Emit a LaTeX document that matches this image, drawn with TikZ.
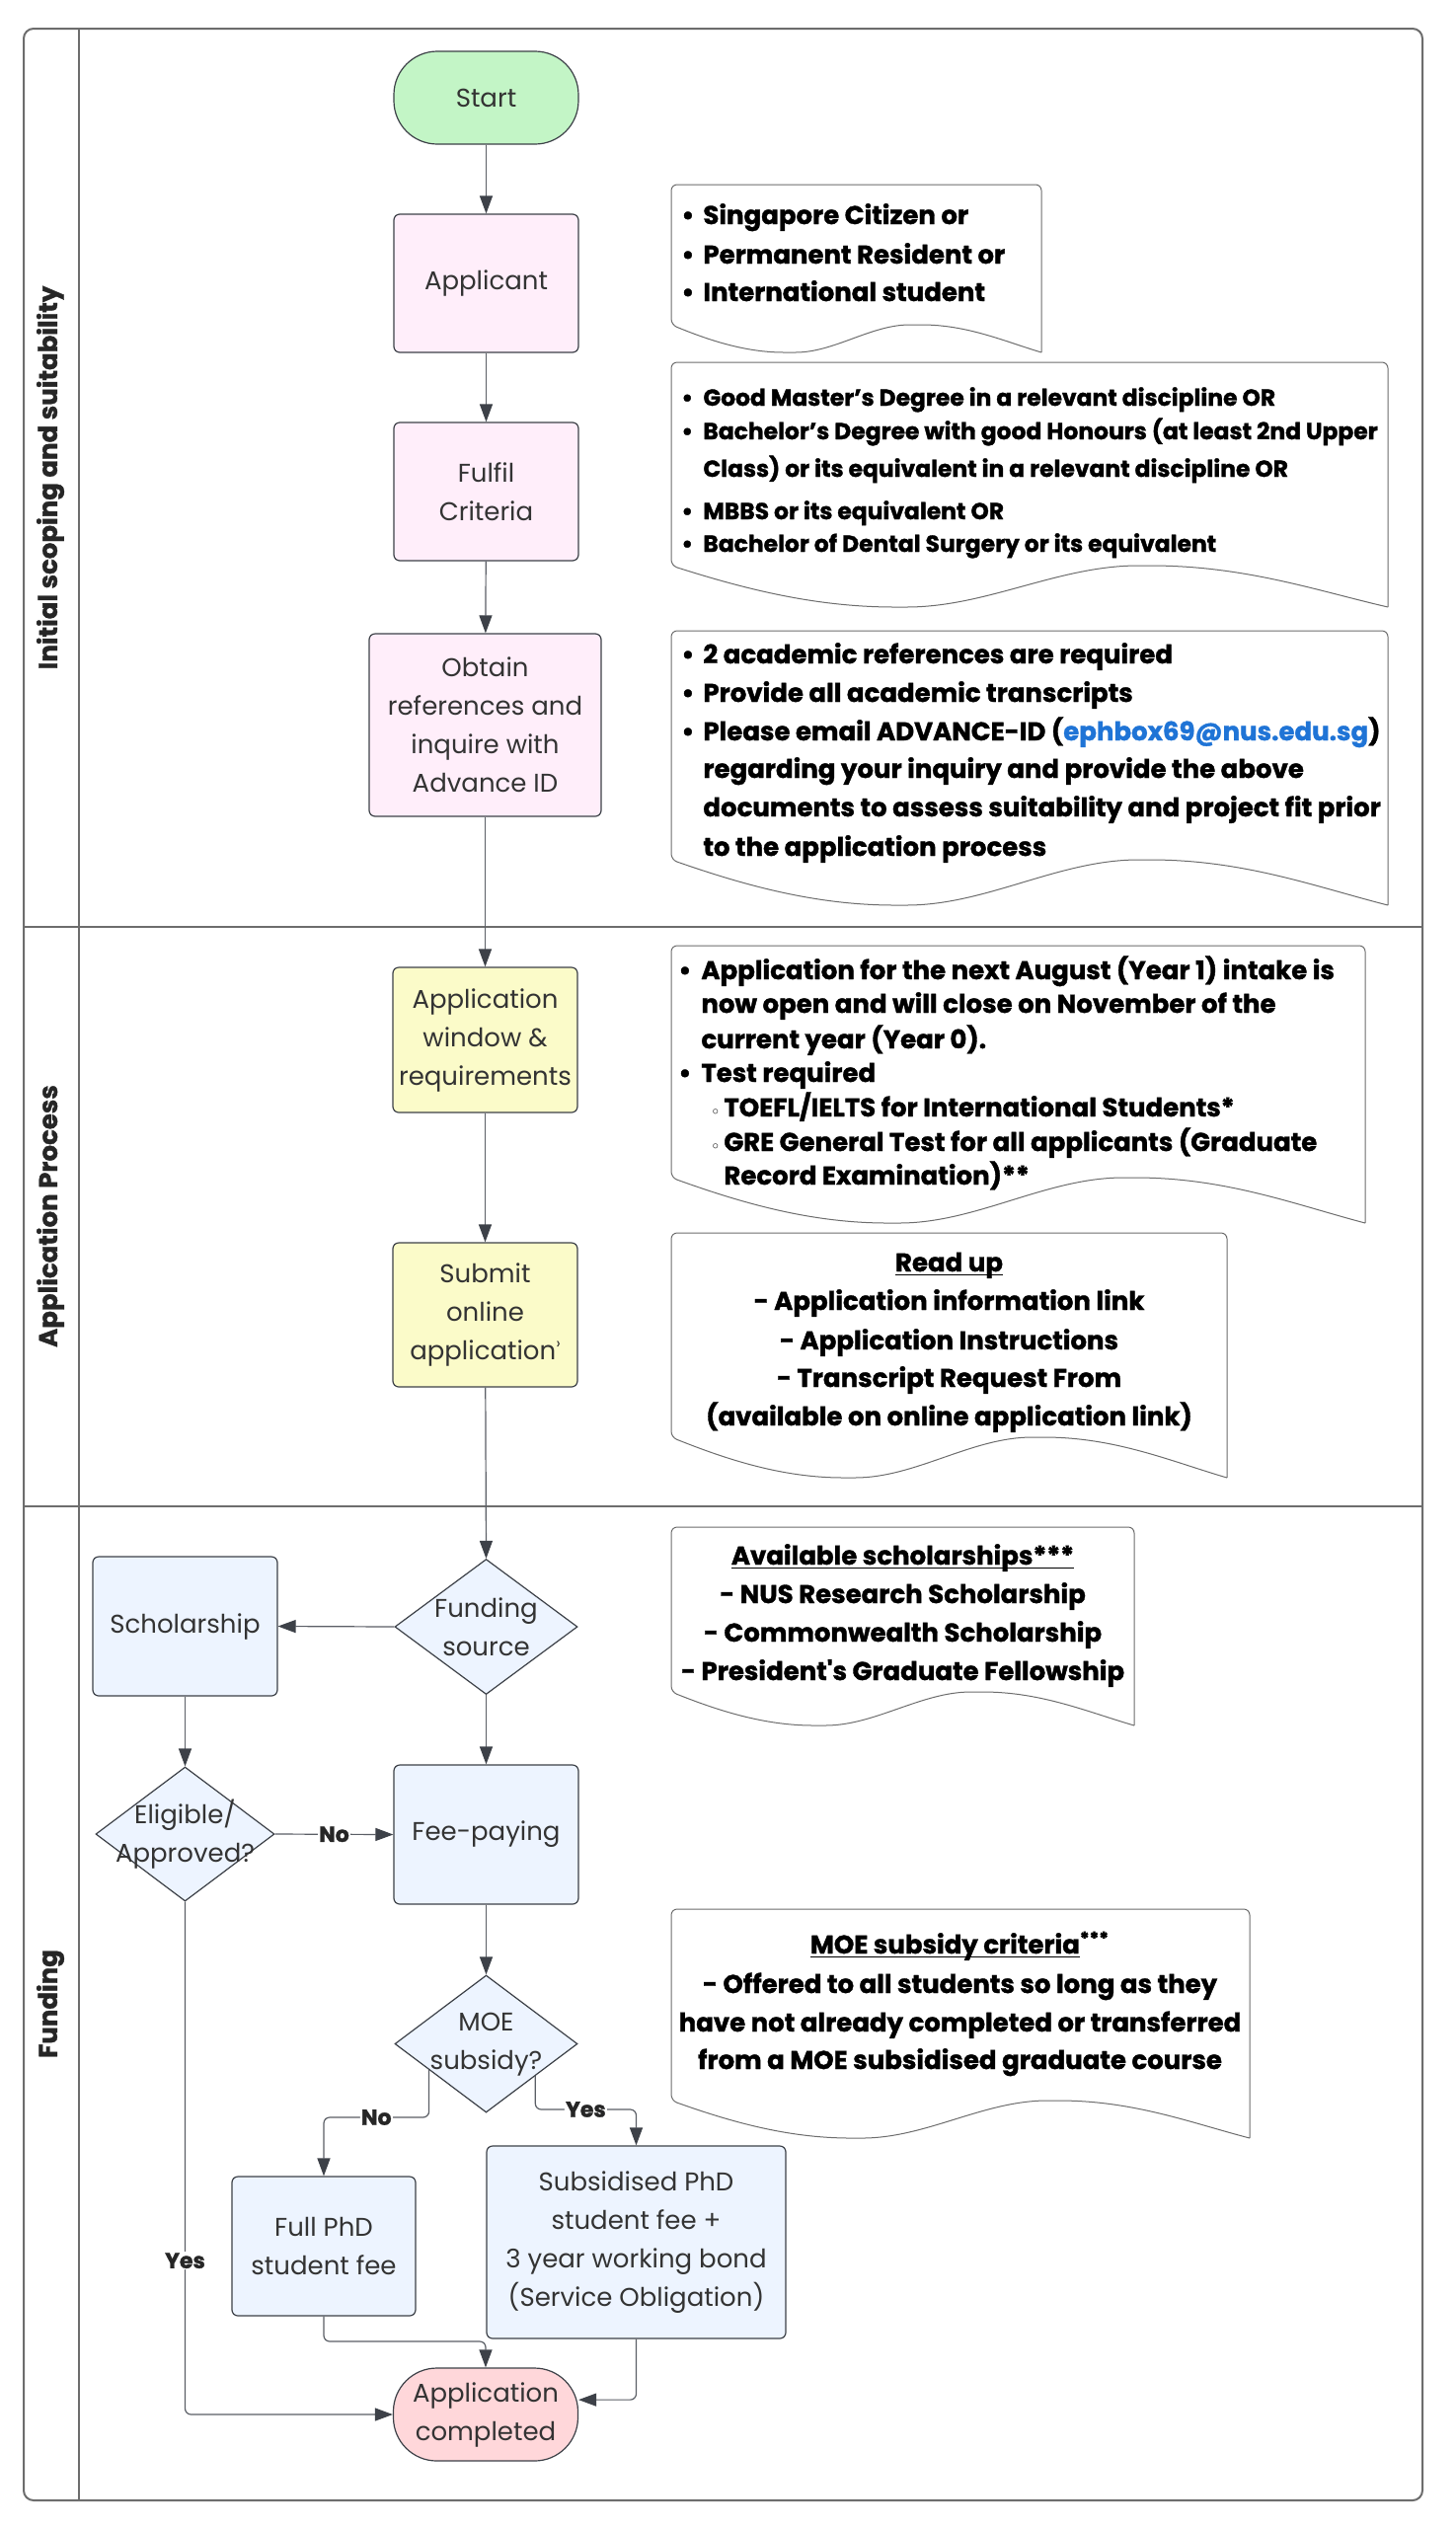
\documentclass[tikz,border=0pt]{standalone}
\usepackage{fontspec}
\newfontfamily\pop{Poppins}[BoldFeatures={FakeBold=1.4}]
\newfontfamily\dejavu{DejaVu Sans}
\usetikzlibrary{shapes.geometric,arrows.meta,calc}
\definecolor{startg}{HTML}{C3F5C6}
\definecolor{pinkb}{HTML}{FFEEFA}
\definecolor{yelb}{HTML}{FBFBC9}
\definecolor{blueb}{HTML}{EDF4FF}
\definecolor{redb}{HTML}{FFD7DA}
\definecolor{edgec}{HTML}{3D4148}
\definecolor{txtc}{HTML}{333333}
\definecolor{connc}{HTML}{5B5F66}
\definecolor{frmc}{HTML}{6D6D6D}
\definecolor{linkb}{HTML}{1F74D6}
\newcommand{\bxfont}{\pop\fontsize{13}{19.5}\selectfont}
\newcommand{\ntfont}{\pop\bfseries\fontsize{13}{19.5}\selectfont}
\newcommand{\myul}[1]{\setbox0\hbox{#1}\rlap{\rule[-2.2pt]{\wd0}{0.9pt}}\box0}
\newcommand{\bula}{\makebox[10pt][l]{\hspace{-1pt}•}}
\newcommand{\bulb}{\makebox[10.5pt][l]{\hspace{-1pt}•}}
\newcommand{\sbul}{\makebox[6.5pt][l]{\dejavu\fontsize{7}{7}\selectfont ◦}}
\newcommand{\docshape}[5]{\draw[notebd] (#3,#4) -- (#3,#2) -- (#1,#2) -- (#1,{#4-#5}) .. controls ({#1+0.1*(#3-#1)},{#4-0.45*#5}) and ({#1+0.2*(#3-#1)},#4) .. ({#1+0.32*(#3-#1)},#4) .. controls ({#1+0.44*(#3-#1)},#4) and ({#1+0.54*(#3-#1)},{#4-#5}) .. ({#1+0.66*(#3-#1)},{#4-#5}) .. controls ({#1+0.8*(#3-#1)},{#4-#5}) and ({#1+0.9*(#3-#1)},{#4-0.4*#5}) .. (#3,#4);}
\begin{document}
\begin{tikzpicture}[x=0.5pt,y=-0.5pt,
  frame/.style={draw=frmc, line width=1pt},
  box/.style={draw=edgec, line width=0.6pt, rounded corners=3pt, align=center, inner sep=0pt, text=txtc, font=\bxfont},
  term/.style={box, rounded corners=22pt, minimum width=93.5pt, minimum height=47pt},
  dia/.style={diamond, draw=edgec, line width=0.6pt, fill=blueb, inner sep=0pt},
  dtext/.style={align=center, inner sep=0pt, text=txtc, font=\bxfont},
  notebd/.style={draw=frmc, line width=0.5pt, rounded corners=3pt},
  nl/.style={anchor=base west, inner sep=0pt, font=\ntfont},
  nc/.style={anchor=base, inner sep=0pt, font=\ntfont},
  lane/.style={rotate=90, font=\pop\bfseries\fontsize{13}{15}\selectfont, text=black!85},
  lbl/.style={font=\pop\bfseries\fontsize{11}{12}\selectfont, text=black!85, fill=white, inner sep=0.6pt},
  arr/.style={draw=connc, line width=0.6pt, rounded corners=3pt, -{Triangle[length=9pt,width=6.5pt,color=edgec]}}
]
\useasboundingbox (0,0) rectangle (1475,2560);
\fill[white] (0,0) rectangle (1475,2560);
% frame and lanes
\draw[frame, rounded corners=5pt] (24,29) rectangle (1441,2533);
\draw[frame] (80,29) -- (80,2533);
\draw[frame] (24,939) -- (1441,939);
\draw[frame] (24,1526) -- (1441,1526);
\node[lane] (lane1) at (51,484) {Initial scoping and suitability};
\node[lane] (lane2) at (51,1232) {Application Process};
\node[lane] (lane3) at (51,2030) {Funding};

% flow nodes
\node[term, fill=startg] (start) at (492.5,99) {Start};
\node[box, fill=pinkb, minimum width=93.5pt, minimum height=70pt] (appl) at (492.5,287) {Applicant};
\node[box, fill=pinkb, minimum width=93.5pt, minimum height=70pt] (fulfil) at (492.5,498) {Fulfil\\Criteria};
\node[box, fill=pinkb, minimum width=117.5pt, minimum height=92.5pt] (obtain) at (491.5,734.5) {Obtain\\references and\\inquire with\\Advance ID};
\node[box, fill=yelb, minimum width=93.5pt, minimum height=73.5pt] (window) at (491.5,1053.5) {Application\\window \&\\requirements};
\node[box, fill=yelb, minimum width=93.5pt, minimum height=73pt] (submit) at (491.5,1332) {Submit\\online\\application\raisebox{0.42em}{\fontsize{8}{8}\selectfont ›}};
\node[dia, minimum width=92.5pt, minimum height=68.5pt] (fund) at (492.5,1648) {};
\node[dtext] (fundt) at (492.5,1648) {Funding\\source};
\node[box, fill=blueb, minimum width=93.5pt, minimum height=70.5pt] (schol) at (187.5,1647.5) {Scholarship};
\node[dia, minimum width=90.5pt, minimum height=68pt] (elig) at (187.5,1858) {};
\node[dtext] (eligt) at (187.5,1858) {Eligible/\\Approved?};
\node[box, fill=blueb, minimum width=93.5pt, minimum height=70.5pt] (fee) at (492.5,1858.5) {Fee-paying};
\node[dia, minimum width=92.5pt, minimum height=69.5pt] (moe) at (492.5,2070.5) {};
\node[dtext] (moet) at (492.5,2071) {MOE\\subsidy?};
\node[box, fill=blueb, minimum width=93pt, minimum height=70.5pt] (full) at (328,2275.5) {Full PhD\\student fee};
\node[box, fill=blueb, minimum width=151.5pt, minimum height=97.5pt] (subs) at (644.5,2271.5) {Subsidised PhD\\student fee +\\3 year working bond\\(Service Obligation)};
\node[term, fill=redb] (done) at (492,2446) {Application\\completed};

% connectors
\draw[arr] (start) -- (appl);
\draw[arr] (appl) -- (fulfil);
\draw[arr] (fulfil) -- (obtain);
\draw[arr] (obtain) -- (window);
\draw[arr] (window) -- (submit);
\draw[arr] (submit) -- (fund.north);
\draw[arr] (fund.west) -- (schol.east);
\draw[arr] (fund.south) -- (fee.north);
\draw[arr] (schol.south) -- (elig.north);
\draw[arr] (elig.east) -- node[lbl]{No} (fee.west);
\draw[arr] (fee.south) -- (moe.north);
\coordinate (moeno) at ($(moe.west)!0.378!(moe.south)$);
\coordinate (moeyes) at ($(moe.south)!0.535!(moe.east)$);
\draw[arr] (moeno) -- (moeno |- 0,2145) -- node[lbl]{No} (full.north |- 0,2145) -- (full.north);
\draw[arr] (moeyes) -- (moeyes |- 0,2137) -- node[lbl]{Yes} (subs.north |- 0,2137) -- (subs.north);
\draw[arr] (full.south) -- (full.south |- 0,2372) -| (done.north);
\draw[arr] (subs.south) |- (done.9);
\draw[arr] (elig.south) -- node[lbl,pos=0.70]{Yes} (elig.south |- done.west) -- (done.west);

% notes
\docshape{680}{187}{1055}{357}{28}
\node[nl] (n1a) at (692,227) {\bula Singapore Citizen or};
\node[nl] (n1b) at (692,267) {\bula Permanent Resident or};
\node[nl] (n1c) at (692,305) {\bula International student};

\docshape{680}{367}{1406}{615}{42}
\begin{scope}[nl/.append style={font=\pop\bfseries\fontsize{11.7}{16}\selectfont}]
\node[nl] (n2a) at (692,411) {\bula Good Master’s Degree in a relevant discipline OR};
\node[nl] (n2b) at (692,445) {\bula Bachelor’s Degree with good Honours (at least 2nd Upper};
\node[nl] (n2c) at (712,483) {Class) or its equivalent in a relevant discipline OR};
\node[nl] (n2d) at (692,526) {\bula MBBS or its equivalent OR};
\node[nl] (n2e) at (692,559) {\bula Bachelor of Dental Surgery or its equivalent};
\end{scope}

\docshape{680}{639}{1406}{917}{46}
\node[nl] (n3a) at (692,672) {\bula 2 academic references are required};
\node[nl] (n3b) at (692,711) {\bula Provide all academic transcripts};
\node[nl] (n3c) at (692,750) {\bula Please email ADVANCE-ID ({\color{linkb}ephbox69@nus.edu.sg})};
\node[nl] (n3d) at (712,788) {regarding your inquiry and provide the above};
\node[nl] (n3e) at (712,827) {documents to assess suitability and project fit prior};
\node[nl] (n3f) at (712,867) {to the application process};

\docshape{680}{958}{1383}{1239}{46}
\node[nl] (n4a) at (689,992) {\bulb Application for the next August (Year 1) intake is};
\node[nl] (n4b) at (710,1026) {now open and will close on November of the};
\node[nl] (n4c) at (710,1062) {current year (Year 0).};
\node[nl] (n4d) at (689,1096) {\bulb Test required};
\node[nl] (n4e) at (720,1131) {\sbul TOEFL/IELTS for International Students*};
\node[nl] (n4f) at (720,1166) {\sbul GRE General Test for all applicants (Graduate};
\node[nl] (n4g) at (733,1200) {Record Examination)**};

\docshape{680}{1249}{1243}{1497}{41}
\node[nc] (n5a) at (961.5,1288) {\myul{Read up}};
\node[nc] (n5b) at (961.5,1327) {- Application information link};
\node[nc] (n5c) at (961.5,1367) {- Application Instructions};
\node[nc] (n5d) at (961.5,1405) {- Transcript Request From};
\node[nc] (n5e) at (961.5,1444) {(available on online application link)};

\docshape{680}{1547}{1149}{1748}{34}
\node[nc] (n6a) at (914.5,1585) {\myul{Available scholarships***}};
\node[nc] (n6b) at (914.5,1624) {- NUS Research Scholarship};
\node[nc] (n6c) at (914.5,1663) {- Commonwealth Scholarship};
\node[nc] (n6d) at (914.5,1702) {- President's Graduate Fellowship};

\docshape{680}{1934}{1266}{2166}{38}
\node[nc] (n7a) at (972.5,1979) {\myul{MOE subsidy criteria}\textsuperscript{***}};
\node[nc] (n7b) at (972.5,2019) {- Offered to all students so long as they};
\node[nc] (n7c) at (972.5,2058) {have not already completed or transferred};
\node[nc] (n7d) at (972.5,2096) {from a MOE subsidised graduate course};
\end{tikzpicture}
\end{document}
